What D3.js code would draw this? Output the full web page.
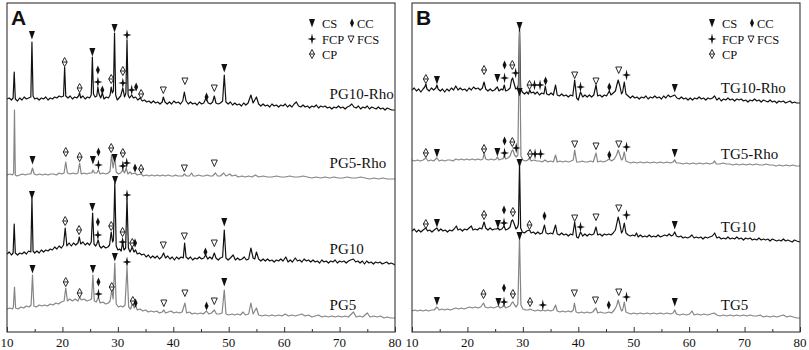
<!DOCTYPE html>
<html>
<head>
<meta charset="utf-8">
<script src="https://cdn.jsdelivr.net/npm/d3@7"></script>
<style>
  body { margin: 0; background: #fff; }
  svg text { font-family: "Liberation Serif", "Times New Roman", serif; fill: #111; }
</style>
</head>
<body>
<div id="chart"></div>
<script>
// ---- data: 2theta (deg), intensity (a.u.) ----
var xTicks = [10, 20, 30, 40, 50, 60, 70, 80];
var legendItems = [["CS", "CS"], ["CC", "CC"], ["FCP", "FCP"], ["FCS", "FCS"], ["CP", "CP"]];

var pg10rho = [[10,16],[10.4,17],[10.8,15],[11.1,17],[11.3,43],[11.5,16],[11.9,14],[12.3,17],[12.7,15],[13.1,18],[13.5,16],[13.9,17],[14.3,18],[14.5,73],[14.7,19],[15.0,16],[15.4,17],[15.8,15],[16.2,17],[16.6,16],[17.0,18],[17.4,15],[17.8,17],[18.2,16],[18.6,18],[19.0,17],[19.4,19],[19.8,18],[20.2,19],[20.4,48],[20.6,19],[21.0,17],[21.4,19],[21.8,16],[22.2,18],[22.6,17],[22.9,19],[23.1,22],[23.3,17],[23.7,19],[24.1,16],[24.5,18],[24.9,17],[25.2,20],[25.4,58],[25.6,21],[25.9,18],[26.2,19],[26.4,28],[26.6,21],[26.9,17],[27.2,22],[27.5,16],[27.9,18],[28.3,17],[28.6,20],[28.8,28],[29.0,22],[29.2,24],[29.4,82],[29.6,20],[29.9,15],[30.2,17],[30.5,19],[30.9,27],[31.2,18],[31.45,22],[31.65,75],[31.85,20],[32.1,17],[32.5,20],[32.8,17],[33.2,18],[33.6,15],[34.0,17],[34.4,14],[34.8,15],[35.2,13],[35.6,14],[36.0,12],[36.4,14],[36.8,12],[37.2,13],[37.6,11],[38.0,13],[38.2,18],[38.5,13],[38.9,11],[39.3,13],[39.7,11],[40.1,14],[40.5,12],[40.9,13],[41.3,11],[41.7,14],[42.0,23],[42.3,14],[42.7,11],[43.1,13],[43.5,11],[43.9,12],[44.3,10],[44.7,13],[45.1,11],[45.5,12],[45.9,17],[46.3,12],[46.7,11],[47.1,13],[47.4,19],[47.7,12],[48.1,11],[48.5,12],[48.9,14],[49.2,40],[49.5,13],[49.9,11],[50.3,13],[50.7,10],[51.1,12],[51.5,10],[51.9,11],[52.3,9],[52.7,12],[53.1,10],[53.5,12],[54.0,20],[54.4,12],[55.0,18],[55.4,11],[55.8,9],[56.2,11],[56.6,9],[57.0,10],[57.4,8],[57.8,11],[58.2,9],[58.6,10],[59.0,8],[59.4,10],[59.8,9],[60.2,11],[60.6,8],[61.0,10],[61.4,8],[61.8,11],[62.2,13],[62.6,9],[63.0,8],[63.4,10],[63.8,8],[64.2,9],[64.6,7],[65.0,9],[65.4,8],[65.8,10],[66.2,7],[66.6,9],[67.0,8],[67.4,9],[67.8,7],[68.2,8],[68.6,6],[69.0,8],[69.4,7],[69.8,9],[70.2,7],[70.6,8],[71.0,6],[71.4,8],[71.8,9],[72.2,11],[72.6,8],[73.0,7],[73.4,9],[73.8,6],[74.2,8],[74.6,7],[75.0,9],[75.4,6],[75.8,8],[76.2,7],[76.6,6],[77.0,8],[77.4,6],[77.8,7],[78.2,5],[78.6,7],[79.0,6],[79.4,5],[80,5]];

var pg5rho = [[10,10],[10.5,11],[11.0,10],[11.2,12],[11.35,75],[11.5,10],[11.8,9],[12.3,10],[12.8,11],[13.3,10],[13.8,11],[14.3,11],[14.6,17],[14.9,11],[15.4,10],[15.9,11],[16.4,10],[16.9,11],[17.4,10],[17.9,11],[18.4,11],[18.9,10],[19.4,12],[19.9,11],[20.3,12],[20.6,23],[20.9,12],[21.4,11],[21.9,12],[22.4,11],[22.8,12],[23.1,22],[23.4,11],[23.9,12],[24.4,11],[24.9,12],[25.3,12],[25.5,15],[25.8,12],[26.2,12],[26.5,15],[26.8,11],[27.3,12],[27.8,11],[28.3,12],[28.6,14],[28.85,30],[29.15,17],[29.45,28],[29.7,13],[30.1,11],[30.5,12],[30.9,15],[31.2,12],[31.5,17],[31.8,11],[32.2,13],[32.5,11],[33.1,12],[33.5,10],[34.2,11],[34.6,9],[35.1,10],[35.6,9],[36.1,10],[36.6,9],[37.1,10],[37.6,9],[38.1,10],[38.6,9],[39.1,10],[39.6,9],[40.1,9],[40.4,10],[40.8,9],[41.3,9],[41.7,9],[42.0,11],[42.4,9],[42.9,9],[43.3,12],[43.6,9],[44.1,9],[44.6,10],[45.1,9],[45.6,9],[46.1,10],[46.6,9],[47.1,9],[47.6,12],[48.0,9],[48.5,9],[49.1,12],[49.5,9],[50.2,11],[50.6,9],[51.2,10],[51.7,8],[52.4,9],[53.0,8],[53.6,9],[54.2,8],[54.8,10],[55.4,8],[56.2,9],[57.0,8],[57.8,8],[58.6,9],[59.4,8],[60.2,8],[61.0,9],[61.8,8],[62.6,8],[63.4,9],[64.2,8],[65.0,7],[65.8,8],[66.6,7],[67.4,8],[68.2,7],[69.0,8],[69.8,7],[70.6,7],[71.4,8],[72.2,7],[73.0,7],[73.8,8],[74.6,7],[75.4,6],[76.2,7],[77.0,6],[77.8,7],[78.6,6],[79.4,6],[80,6]];

var pg10 = [[10,16],[10.4,18],[10.8,15],[11.1,17],[11.3,46],[11.5,17],[11.9,15],[12.3,17],[12.7,16],[13.1,18],[13.5,16],[13.9,19],[14.3,18],[14.5,72],[14.7,19],[15.0,17],[15.4,19],[15.8,17],[16.2,20],[16.6,18],[17.0,20],[17.4,19],[17.8,21],[18.2,20],[18.6,23],[19.0,21],[19.4,24],[19.8,22],[20.2,25],[20.5,42],[20.8,24],[21.2,27],[21.6,24],[22.0,27],[22.4,25],[22.8,27],[23.05,33],[23.3,26],[23.7,28],[24.1,25],[24.5,27],[24.9,25],[25.2,28],[25.45,57],[25.7,26],[26.0,24],[26.2,26],[26.45,30],[26.7,24],[27.0,22],[27.4,24],[27.8,22],[28.2,23],[28.5,25],[28.8,38],[29.05,28],[29.2,30],[29.45,87],[29.7,24],[30.0,20],[30.3,21],[30.6,19],[30.85,28],[31.1,20],[31.4,22],[31.65,72],[31.9,22],[32.2,18],[32.6,23],[32.9,18],[33.2,20],[33.5,16],[33.9,17],[34.3,15],[34.7,16],[35.1,13],[35.5,15],[35.9,12],[36.3,14],[36.7,12],[37.1,14],[37.5,11],[37.9,13],[38.25,17],[38.6,12],[39.0,14],[39.4,11],[39.8,13],[40.2,10],[40.6,13],[41.0,11],[41.4,13],[41.8,12],[42.05,27],[42.3,13],[42.7,11],[43.1,13],[43.5,10],[43.9,12],[44.3,11],[44.7,13],[45.1,11],[45.5,12],[45.85,15],[46.2,11],[46.6,13],[47.0,11],[47.4,17],[47.7,12],[48.1,10],[48.5,12],[48.9,13],[49.2,40],[49.5,12],[49.9,10],[50.3,12],[50.8,15],[51.2,10],[51.6,12],[52.0,10],[52.4,11],[52.8,13],[53.2,10],[53.6,11],[54.0,22],[54.4,12],[54.7,11],[55.0,18],[55.4,11],[55.8,9],[56.2,11],[56.6,9],[57.0,11],[57.4,9],[57.8,10],[58.2,8],[58.6,10],[59.0,9],[59.4,11],[59.8,9],[60.3,13],[60.7,8],[61.1,10],[61.5,8],[62.0,12],[62.4,9],[62.8,10],[63.2,8],[63.6,11],[64.0,9],[64.4,10],[64.8,8],[65.2,10],[65.6,8],[66.0,9],[66.4,7],[66.8,10],[67.2,8],[67.6,9],[68.0,7],[68.4,9],[68.8,8],[69.2,10],[69.6,7],[70.0,9],[70.4,8],[70.8,9],[71.2,7],[71.6,9],[72.0,10],[72.5,11],[72.9,8],[73.3,9],[73.7,7],[74.1,9],[74.5,6],[74.9,9],[75.3,7],[75.7,8],[76.1,6],[76.5,8],[76.9,7],[77.3,8],[77.7,6],[78.1,7],[78.5,8],[78.9,6],[79.3,7],[79.7,6],[80,5]];

var pg5 = [[10,16],[10.5,17],[11.0,16],[11.15,18],[11.35,38],[11.55,17],[12.0,16],[12.5,18],[13.0,17],[13.5,19],[14.0,18],[14.35,20],[14.6,50],[14.85,19],[15.3,18],[15.8,20],[16.3,19],[16.8,20],[17.3,19],[17.8,21],[18.3,20],[18.8,22],[19.3,21],[19.8,23],[20.3,24],[20.6,37],[20.9,24],[21.3,26],[21.8,24],[22.3,26],[22.8,24],[23.1,28],[23.4,25],[23.9,26],[24.4,24],[24.9,25],[25.25,26],[25.5,50],[25.75,24],[26.1,23],[26.5,28],[26.8,22],[27.3,23],[27.8,21],[28.3,22],[28.6,24],[28.9,35],[29.15,26],[29.45,62],[29.7,21],[30.1,18],[30.5,19],[30.9,18],[31.3,20],[31.65,58],[31.95,18],[32.3,16],[32.7,23],[32.95,17],[33.2,20],[33.5,15],[34.0,16],[34.5,14],[35.0,15],[35.5,13],[36.0,14],[36.5,13],[37.0,14],[37.5,12],[38.0,13],[38.3,15],[38.6,12],[39.1,13],[39.6,14],[40.1,12],[40.6,13],[41.1,12],[41.6,13],[42.1,22],[42.4,12],[42.9,13],[43.4,11],[43.9,12],[44.4,11],[44.9,12],[45.4,11],[46.0,14],[46.4,11],[46.9,12],[47.4,15],[47.8,11],[48.3,11],[48.8,12],[49.2,35],[49.5,11],[50.0,10],[50.6,11],[51.1,10],[51.6,11],[52.1,10],[52.6,13],[53.0,10],[53.6,11],[54.0,22],[54.4,11],[55.0,17],[55.4,10],[56.0,9],[56.6,10],[57.2,9],[57.8,10],[58.4,9],[59.0,10],[59.6,9],[60.2,11],[60.8,9],[61.4,10],[62.0,9],[62.6,10],[63.2,11],[63.8,9],[64.4,10],[65.0,8],[65.6,9],[66.2,10],[66.8,8],[67.4,9],[68.0,8],[68.6,9],[69.2,8],[69.8,9],[70.4,8],[71.0,9],[71.6,8],[72.5,13],[73.0,8],[73.6,9],[74.2,8],[75.0,12],[75.5,8],[76.2,9],[76.8,8],[77.4,9],[78.0,7],[78.6,8],[79.2,7],[80,7]];

var tg10rho = [[10,20],[10.4,22],[10.8,19],[11.2,21],[11.6,18],[12.0,21],[12.3,23],[12.5,26],[12.7,21],[13.1,19],[13.5,22],[13.9,20],[14.3,22],[14.5,25],[14.7,21],[15.1,19],[15.5,21],[15.9,18],[16.3,21],[16.7,19],[17.1,22],[17.5,20],[17.9,24],[18.3,20],[18.7,22],[19.1,20],[19.5,21],[19.9,19],[20.3,22],[20.7,20],[21.1,23],[21.5,21],[21.9,22],[22.3,20],[22.7,22],[23.0,28],[23.3,21],[23.7,19],[24.1,21],[24.5,19],[24.9,20],[25.2,22],[25.4,23],[25.7,19],[26.1,21],[26.4,20],[26.65,25],[26.9,19],[27.3,20],[27.7,22],[27.95,30],[28.15,32],[28.4,27],[28.7,21],[29.0,22],[29.2,25],[29.4,82],[29.6,22],[29.9,18],[30.3,16],[30.7,18],[31.0,16],[31.25,20],[31.5,17],[31.9,18],[32.2,16],[32.6,18],[33.0,15],[33.4,17],[33.8,16],[34.05,24],[34.3,16],[34.7,15],[35.1,17],[35.5,15],[35.9,25],[36.2,15],[36.6,14],[37.0,16],[37.4,14],[37.8,15],[38.2,13],[38.6,15],[39.0,14],[39.35,30],[39.7,12],[40.0,10],[40.4,18],[40.8,13],[41.2,15],[41.6,13],[42.0,15],[42.4,13],[42.8,15],[43.2,25],[43.5,14],[43.9,15],[44.3,13],[44.7,15],[45.1,14],[45.6,19],[45.9,15],[46.3,17],[46.7,19],[47.0,26],[47.2,30],[47.5,24],[47.8,16],[48.0,18],[48.3,28],[48.6,16],[49.0,14],[49.4,12],[49.8,14],[50.2,12],[50.6,13],[51.0,11],[51.4,13],[51.8,12],[52.2,14],[52.6,11],[53.0,13],[53.4,12],[53.8,14],[54.2,12],[54.6,13],[55.0,11],[55.4,14],[55.8,12],[56.2,15],[56.6,13],[57.0,14],[57.4,15],[57.8,12],[58.2,11],[58.6,13],[59.0,11],[59.4,12],[59.8,10],[60.2,12],[60.6,10],[61.0,12],[61.4,11],[61.8,13],[62.2,11],[62.6,12],[63.0,10],[63.4,12],[63.8,11],[64.2,12],[64.6,14],[65.0,10],[65.4,12],[65.8,9],[66.2,11],[66.6,10],[67.0,12],[67.4,10],[67.8,11],[68.2,9],[68.6,11],[69.0,10],[69.4,11],[69.8,9],[70.2,10],[70.6,8],[71.0,10],[71.4,9],[71.8,11],[72.2,9],[72.6,10],[73.0,8],[73.4,10],[73.8,9],[74.2,8],[74.6,10],[75.0,8],[75.4,9],[75.8,7],[76.2,9],[76.6,8],[77.0,9],[77.4,7],[77.8,8],[78.2,9],[78.6,7],[79.0,8],[79.4,7],[80,7]];

var tg5rho = [[10,15],[10.5,14],[11.0,15],[11.5,14],[12.0,15],[12.5,17],[12.9,14],[13.4,15],[13.9,14],[14.5,17],[14.9,14],[15.4,15],[15.9,14],[16.4,15],[16.9,15],[17.4,14],[17.9,16],[18.4,15],[18.9,16],[19.4,15],[19.9,16],[20.4,15],[20.9,16],[21.4,15],[21.9,16],[22.4,15],[22.8,16],[23.0,22],[23.3,16],[23.8,15],[24.3,16],[24.8,15],[25.2,16],[25.4,18],[25.7,15],[26.1,16],[26.4,16],[26.65,20],[26.9,16],[27.3,17],[27.7,19],[28.0,24],[28.2,25],[28.5,20],[28.8,18],[29.1,20],[29.4,143],[29.65,19],[30.0,15],[30.5,14],[30.9,15],[31.2,17],[31.5,14],[32.0,15],[32.5,14],[33.0,14],[33.5,13],[34.0,15],[34.5,13],[35.0,14],[35.5,13],[35.9,20],[36.2,13],[36.7,14],[37.2,13],[37.7,14],[38.2,13],[38.7,14],[39.1,15],[39.35,25],[39.7,13],[40.2,13],[40.7,14],[41.2,13],[41.7,13],[42.2,14],[42.7,13],[43.2,22],[43.5,13],[44.0,14],[44.5,13],[45.0,14],[45.6,16],[46.0,14],[46.5,16],[46.9,20],[47.2,25],[47.5,20],[47.8,15],[48.0,16],[48.3,23],[48.6,14],[49.0,13],[49.5,12],[50.0,13],[50.6,12],[51.2,13],[51.8,12],[52.4,13],[53.0,12],[53.6,13],[54.2,12],[54.8,13],[55.4,12],[56.0,13],[56.6,12],[57.1,13],[57.4,15],[57.7,12],[58.3,12],[58.9,11],[59.5,12],[60.1,11],[60.7,12],[61.3,11],[61.9,12],[62.5,11],[63.1,12],[63.7,11],[64.3,12],[64.6,14],[64.9,11],[65.5,11],[66.1,12],[66.7,11],[67.3,11],[67.9,10],[68.5,11],[69.1,10],[69.7,11],[70.3,10],[70.9,11],[71.5,10],[72.1,11],[72.7,10],[73.3,10],[73.9,11],[74.5,10],[75.1,10],[75.7,9],[76.3,10],[76.9,9],[77.5,10],[78.1,9],[78.7,10],[79.3,9],[80,9]];

var tg10 = [[10,19],[10.4,21],[10.8,18],[11.2,20],[11.6,18],[12.0,20],[12.5,22],[12.8,19],[13.2,20],[13.6,18],[14.0,20],[14.5,22],[14.8,19],[15.2,21],[15.6,19],[16.0,20],[16.4,18],[16.8,20],[17.2,19],[17.6,21],[18.0,24],[18.3,20],[18.7,21],[19.1,19],[19.5,21],[19.9,20],[20.3,22],[20.7,24],[21.0,20],[21.4,21],[21.8,20],[22.2,22],[22.6,21],[23.0,28],[23.3,22],[23.7,20],[24.1,22],[24.5,20],[24.9,21],[25.3,21],[25.5,22],[25.8,20],[26.2,21],[26.6,24],[26.9,20],[27.3,21],[27.7,23],[27.95,29],[28.15,30],[28.45,26],[28.75,21],[29.05,23],[29.2,26],[29.4,87],[29.6,22],[29.9,18],[30.3,17],[30.7,19],[31.2,20],[31.5,17],[31.9,18],[32.3,16],[32.7,18],[33.1,16],[33.5,17],[33.9,25],[34.2,17],[34.6,16],[35.0,17],[35.4,16],[35.9,25],[36.2,16],[36.6,15],[37.0,17],[37.4,15],[37.8,16],[38.2,14],[38.6,16],[39.0,15],[39.35,28],[39.7,13],[40.0,12],[40.4,18],[40.8,14],[41.2,16],[41.6,14],[42.0,16],[42.4,15],[42.8,16],[43.2,23],[43.5,15],[43.9,16],[44.3,14],[44.7,16],[45.1,15],[45.5,16],[45.9,15],[46.3,17],[46.7,20],[47.0,28],[47.2,33],[47.5,26],[47.8,17],[48.0,19],[48.3,27],[48.6,17],[49.0,15],[49.4,14],[49.8,15],[50.2,14],[50.5,17],[50.8,13],[51.2,15],[51.6,13],[52.0,14],[52.4,13],[52.8,15],[53.2,13],[53.6,14],[54.0,13],[54.4,15],[54.8,13],[55.2,14],[55.6,15],[56.0,14],[56.4,16],[56.8,14],[57.1,15],[57.4,18],[57.7,14],[58.1,13],[58.5,14],[58.9,12],[59.3,13],[59.7,12],[60.1,13],[60.5,15],[60.9,12],[61.3,13],[61.7,12],[62.1,13],[62.5,11],[62.9,13],[63.3,12],[63.7,13],[64.2,14],[64.6,17],[65.0,12],[65.4,13],[65.8,11],[66.2,12],[66.6,11],[67.0,13],[67.4,11],[67.8,12],[68.2,11],[68.6,13],[69.0,11],[69.4,12],[69.8,10],[70.2,12],[70.6,11],[71.0,12],[71.4,10],[71.8,11],[72.2,10],[72.6,12],[73.0,10],[73.4,11],[73.8,10],[74.2,11],[74.6,9],[75.0,11],[75.4,10],[75.8,9],[76.2,10],[76.6,9],[77.0,11],[77.4,9],[77.8,10],[78.2,9],[78.6,8],[79.0,10],[79.4,9],[80,8]];

var tg5 = [[10,14],[10.5,15],[11.0,14],[11.5,15],[12.0,14],[12.5,15],[13.0,14],[13.5,15],[14.0,15],[14.5,18],[14.9,15],[15.4,16],[15.9,15],[16.4,16],[16.9,15],[17.4,16],[17.9,17],[18.4,16],[18.9,17],[19.4,16],[19.9,17],[20.4,18],[20.9,17],[21.4,18],[21.9,17],[22.4,18],[22.9,22],[23.2,18],[23.7,17],[24.2,18],[24.7,17],[25.2,18],[25.6,19],[25.9,17],[26.3,18],[26.6,20],[26.9,17],[27.3,18],[27.7,19],[28.0,22],[28.2,23],[28.5,20],[28.8,18],[29.1,21],[29.4,88],[29.65,20],[30.0,16],[30.5,15],[31.0,15],[31.3,16],[31.7,15],[32.2,14],[32.7,15],[33.2,14],[33.6,15],[34.0,14],[34.5,15],[35.0,14],[35.5,15],[35.9,20],[36.2,14],[36.7,13],[37.2,14],[37.7,13],[38.2,14],[38.7,13],[39.1,15],[39.3,22],[39.6,13],[40.1,12],[40.6,13],[41.1,12],[41.6,13],[42.1,12],[42.6,13],[43.2,17],[43.5,12],[44.0,13],[44.5,12],[45.0,12],[45.5,13],[46.0,12],[46.5,15],[46.9,19],[47.2,25],[47.5,19],[47.8,14],[48.0,15],[48.3,23],[48.6,13],[49.0,12],[49.5,11],[50.0,12],[50.6,11],[51.2,12],[51.8,11],[52.4,12],[53.0,11],[53.6,12],[54.2,11],[54.8,12],[55.4,11],[56.0,12],[56.6,11],[57.1,12],[57.4,15],[57.7,11],[58.3,10],[58.9,11],[59.5,10],[60.1,11],[60.5,14],[60.9,10],[61.5,11],[62.1,10],[62.7,11],[63.3,10],[63.9,11],[64.5,12],[65.0,10],[65.6,9],[66.2,10],[66.8,9],[67.4,10],[68.0,9],[68.6,10],[69.2,9],[69.8,10],[70.4,9],[71.0,10],[71.6,9],[72.2,9],[72.8,10],[73.4,8],[74.0,9],[74.6,8],[75.2,9],[75.8,8],[76.4,9],[77.0,10],[77.6,8],[78.2,9],[78.8,8],[79.4,7],[80,7]];

// phase markers: [phase, 2theta, intensity above trace zero]
var pg10rhoMarks = [["CS",14.5,80],["CP",20.4,53],["CP",23.1,27],["CS",25.4,63],["CC",26.4,45],["FCP",26.4,33],["CC",27.2,25],["CP",28.8,36],["CS",29.4,87],["CP",30.9,44],["FCP",30.9,32],["FCP",31.65,80],["FCP",32.5,25],["CC",33.3,28],["CP",34.2,21],["FCS",38.2,25],["FCS",42.1,34],["CC",46.0,18],["FCS",47.4,27],["CS",49.2,47]];
var pg5rhoMarks = [["CS",14.6,25],["CP",20.6,33],["CP",23.1,28],["CS",25.5,25],["CC",26.5,33],["FCP",26.5,20],["CP",28.8,37],["CS",29.4,27],["CP",30.9,32],["FCP",30.9,19],["FCP",31.6,22],["CC",33.1,17],["CP",34.2,16],["FCS",42.0,17],["FCS",47.4,22]];
var pg10Marks = [["CS",14.5,75],["CP",20.5,49],["CP",23.0,40],["CS",25.4,63],["CC",26.4,48],["FCP",26.4,35],["CP",28.8,44],["CS",29.5,90],["CP",30.85,38],["FCP",30.85,28],["FCP",31.65,75],["CP",32.6,27],["CC",33.1,27],["FCS",38.2,25],["FCS",42.0,34],["CC",45.8,18],["FCS",47.4,27],["CS",49.2,48]];
var pg5Marks = [["CS",14.6,56],["CP",20.6,43],["CP",23.1,32],["CS",25.5,56],["CC",26.5,43],["FCP",26.5,31],["CP",28.9,38],["CS",29.45,68],["FCP",31.65,63],["CP",32.7,24],["CC",33.2,22],["FCS",38.3,22],["FCS",42.1,32],["CC",46.0,19],["FCS",47.4,24],["CS",49.2,43]];
var tg10rhoMarks = [["CP",12.5,31],["CS",14.5,30],["CP",23.0,40],["CS",25.4,32],["FCP",26.7,32],["CC",26.7,45],["CP",28.1,45],["FCP",28.7,37],["CS",29.4,84],["CP",31.2,25],["FCP",32.1,25],["FCP",33.1,25],["CC",34.1,29],["FCS",39.35,35],["FCP",40.4,23],["FCS",43.2,29],["CC",45.6,23],["FCS",47.3,40],["FCP",48.7,35],["CS",57.4,22]];
var tg5rhoMarks = [["CP",12.5,22],["CS",14.5,22],["CP",23.0,26],["CS",25.4,23],["FCP",26.7,22],["CC",26.7,34],["CP",28.1,33],["FCP",28.8,27],["CS",29.4,83],["CP",31.3,21],["FCP",32.2,21],["FCP",33.2,21],["FCS",39.35,31],["FCS",43.2,29],["CC",45.6,20],["FCS",47.3,31],["FCP",48.7,28],["CS",57.4,22]];
var tg10Marks = [["CP",12.5,26],["CS",14.5,27],["CP",23.0,35],["CS",25.5,26],["FCP",26.6,27],["CC",26.6,40],["CP",28.2,38],["CS",29.4,87],["CP",31.2,25],["CC",33.9,34],["FCS",39.35,32],["FCP",40.4,23],["FCS",43.2,33],["FCS",47.3,42],["FCP",48.7,35],["CS",57.4,25]];
var tg5Marks = [["CS",14.5,24],["CP",22.9,31],["CS",25.6,23],["FCP",26.6,23],["CC",26.6,37],["CP",28.2,31],["CS",29.4,89],["CP",31.3,23],["FCP",33.6,20],["FCS",39.3,32],["FCS",43.1,25],["CC",45.5,20],["FCS",47.3,33],["FCP",48.7,28],["CS",57.4,23]];

// ---- layout ----
var W = 809, H = 350;
var BLACK = "#111", GREY = "#858585";

var panels = [
  { letter: "A", left: 7, right: 395, legendX: 312, labelX: 68.2,
    traces: [
      { name: "PG10-Rho", data: pg10rho, marks: pg10rhoMarks, offset: 217, color: BLACK, labelY: 99 },
      { name: "PG5-Rho",  data: pg5rho,  marks: pg5rhoMarks,  offset: 147, color: GREY,  labelY: 168 },
      { name: "PG10",     data: pg10,    marks: pg10Marks,    offset: 62,  color: BLACK, labelY: 254 },
      { name: "PG5",      data: pg5,     marks: pg5Marks,     offset: 7,   color: GREY,  labelY: 310 }
    ] },
  { letter: "B", left: 412, right: 800, legendX: 712, labelX: 65.7,
    traces: [
      { name: "TG10-Rho", data: tg10rho, marks: tg10rhoMarks, offset: 222, color: BLACK, labelY: 93 },
      { name: "TG5-Rho",  data: tg5rho,  marks: tg5rhoMarks,  offset: 157, color: GREY,  labelY: 159 },
      { name: "TG10",     data: tg10,    marks: tg10Marks,    offset: 82,  color: BLACK, labelY: 232 },
      { name: "TG5",      data: tg5,     marks: tg5Marks,     offset: 7,   color: GREY,  labelY: 310 }
    ] }
];

// marker glyphs, centred on 0,0
var glyph = {
  CS:  { d: "M-3,-4L3,-4L0,4.5Z", fill: "#111", stroke: "none" },
  CC:  { d: "M0,-4.5L2,0L0,4.5L-2,0Z", fill: "#111", stroke: "none" },
  FCP: { d: "M0,-5.5L1,-1L4.5,0L1,1L0,5.5L-1,1L-4.5,0L-1,-1Z", fill: "#111", stroke: "none" },
  FCS: { d: "M-3,-3L3,-3L0,3.5Z", fill: "#fff", stroke: "#111" },
  CP:  { d: "M0,-4.5L2.5,0L0,4.5L-2.5,0ZM-2.5,0L2.5,0", fill: "#fff", stroke: "#111" }
};

var svg = d3.select("#chart").append("svg")
    .attr("width", W)
    .attr("height", H)
    .attr("viewBox", "0 0 " + W + " " + H);

var y = d3.scaleLinear().domain([0, 330]).range([332, 2]);

function drawGlyph(sel, kind) {
  var g = glyph[kind];
  sel.append("path")
    .attr("d", g.d)
    .attr("fill", g.fill)
    .attr("stroke", g.stroke)
    .attr("stroke-width", 0.9);
}

panels.forEach(function(p) {
  var x = d3.scaleLinear().domain([10, 80]).range([p.left, p.right]);
  var g = svg.append("g").attr("class", "panel");

  // traces
  p.traces.forEach(function(t) {
    var line = d3.line()
      .x(function(d) { return x(d[0]); })
      .y(function(d) { return y(t.offset + d[1]); });
    g.append("path")
      .datum(t.data)
      .attr("fill", "none")
      .attr("stroke", t.color)
      .attr("stroke-width", 1.2)
      .attr("stroke-linejoin", "round")
      .attr("d", line);
  });

  // phase markers
  p.traces.forEach(function(t) {
    g.append("g").selectAll("g.mark")
      .data(t.marks)
      .enter().append("g")
        .attr("class", "mark")
        .attr("transform", function(d) { return "translate(" + x(d[1]) + "," + y(t.offset + d[2]) + ")"; })
        .each(function(d) { drawGlyph(d3.select(this), d[0]); });
  });

  // sample labels
  g.selectAll("text.lab")
    .data(p.traces)
    .enter().append("text")
      .attr("class", "lab")
      .attr("x", x(p.labelX))
      .attr("y", function(d) { return d.labelY; })
      .style("font-size", "15px")
      .text(function(d) { return d.name; });

  // frame
  g.append("rect")
    .attr("x", p.left)
    .attr("y", 3)
    .attr("width", p.right - p.left)
    .attr("height", 329)
    .attr("fill", "none")
    .attr("stroke", "#333")
    .attr("stroke-width", 1.1);

  // bottom axis, ticks inside
  var ax = g.append("g").attr("transform", "translate(0,332)")
    .call(d3.axisBottom(x).tickValues(d3.range(10, 81, 5)).tickSize(-4).tickFormat(""));
  ax.select(".domain").remove();
  ax.selectAll("line").attr("stroke", "#333")
    .attr("y2", function(d) { return d % 10 === 0 ? -5 : -3; });
  g.selectAll("text.tick")
    .data(xTicks)
    .enter().append("text")
      .attr("class", "tick")
      .attr("x", function(d) { return x(d); })
      .attr("y", 347)
      .attr("text-anchor", "middle")
      .style("font-size", "13px")
      .text(function(d) { return d; });

  // panel letter
  g.append("text")
    .attr("x", p.left + 4)
    .attr("y", 25)
    .style("font-family", "'Liberation Sans', Arial, sans-serif")
    .style("font-weight", "bold")
    .style("font-size", "21px")
    .text(p.letter);

  // legend
  var lg = g.append("g").attr("transform", "translate(" + p.legendX + ",0)");
  var spots = { CS: [0, 23, 10], CC: [40, 23, 5], FCP: [0, 39, 10], FCS: [39, 39, 6], CP: [0, 54, 10] };
  legendItems.forEach(function(it) {
    var s = spots[it[0]];
    drawGlyph(lg.append("g").attr("transform", "translate(" + s[0] + "," + s[1] + ")"), it[0]);
    lg.append("text")
      .attr("x", s[0] + s[2])
      .attr("y", s[1] + 4.5)
      .style("font-size", "12.5px")
      .text(it[1]);
  });
});
</script>
</body>
</html>
